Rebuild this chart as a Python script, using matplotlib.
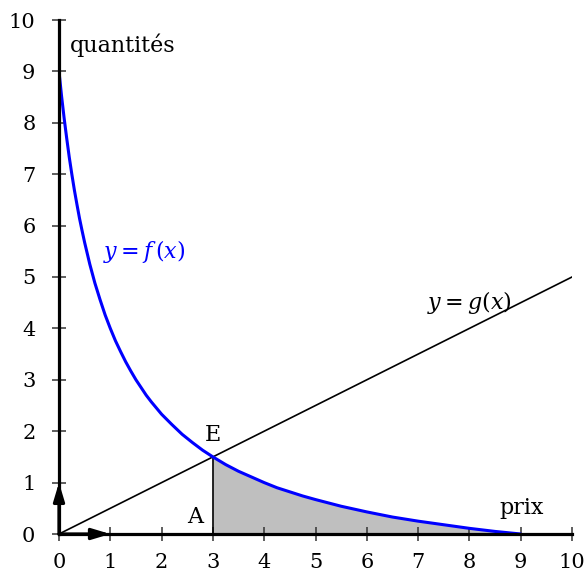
import matplotlib.pyplot as plt
import numpy as np

plt.rcParams['font.family'] = ['DejaVu Serif']
plt.rcParams['mathtext.fontset'] = 'dejavuserif'

# demand curve f
f_x = [0, 0.025, 0.05, 0.1, 0.15, 0.2, 0.25, 0.3, 0.35, 0.4, 0.45, 0.5, 0.6, 0.7,
       0.8, 0.9, 1, 1.1, 1.2, 1.3, 1.4, 1.5, 1.6, 1.7, 1.8, 1.9, 2, 2.2, 2.4, 2.6,
       2.8, 3, 3.25, 3.5, 3.75, 4, 4.25, 4.5, 4.75, 5, 5.5, 6, 6.5, 7, 7.5, 8,
       8.5, 9]
f_y = [9, 8.76, 8.52, 8.09, 7.70, 7.33, 7.0, 6.69, 6.41, 6.14, 5.90, 5.67, 5.25, 4.88,
       4.56, 4.26, 4, 3.76, 3.55, 3.35, 3.17, 3.0, 2.85, 2.70, 2.57, 2.45, 2.33, 2.13, 1.94, 1.78,
       1.63, 1.5, 1.35, 1.22, 1.11, 1.0, 0.90, 0.82, 0.74, 0.67, 0.54, 0.43, 0.33, 0.25, 0.18, 0.11,
       0.05, 0]
# supply line g
g_x = [0, 10]
g_y = [0, 5]
# equilibrium point E
e_x, e_y = 3, 1.5
ticks = list(range(11))

fig = plt.figure(figsize=(5.84, 5.75), dpi=100)
ax = fig.add_axes([59/584, 41/575, 513/584, 514/575])
ax.set_xlim(0, 10)
ax.set_ylim(0, 10)

fx = np.array(f_x)
fy = np.array(f_y)
m = fx >= e_x
ax.fill_between(fx[m], 0, fy[m], color='#bfbfbf', lw=0)
ax.plot([e_x, e_x], [0, e_y], color='black', lw=1.2)
ax.plot(g_x, g_y, color='black', lw=1.2)
ax.plot(fx, fy, color='blue', lw=2.2, solid_capstyle='round')

for s in ['top', 'right']:
    ax.spines[s].set_visible(False)
for s in ['left', 'bottom']:
    ax.spines[s].set_linewidth(2.3)
ax.set_xticks(ticks)
ax.set_yticks(ticks)
ax.tick_params(direction='inout', length=10, width=1.1, color='#333333',
               labelsize=15)
ax.tick_params(axis='y', pad=12)
ax.tick_params(axis='x', pad=9)

arr = dict(arrowstyle='-|>,head_length=1.1,head_width=0.33', lw=2.3,
           color='black', shrinkA=0, shrinkB=0)
ax.annotate('', xy=(1, 0), xytext=(0, 0), arrowprops=arr)
ax.annotate('', xy=(0, 1), xytext=(0, 0), arrowprops=arr)

ax.text(0.22, 9.5, 'quantités', fontsize=16, va='center', ha='left')
ax.text(0.86, 5.5, r'$y = f\,(x)$', fontsize=16, color='blue', va='center')
ax.text(7.17, 4.5, r'$y = g(x)$', fontsize=16, va='center')
ax.text(3.0, 1.93, 'E', fontsize=16, ha='center', va='center')
ax.text(2.65, 0.33, 'A', fontsize=16, ha='center', va='center')
ax.text(9.02, 0.5, 'prix', fontsize=16, ha='center', va='center')

fig.savefig('out.png', dpi=100)
